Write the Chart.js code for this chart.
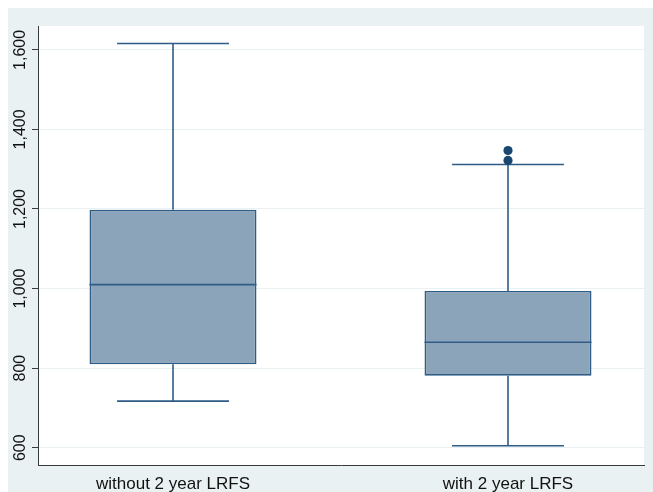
<!DOCTYPE html>
<html>
<head>
<meta charset="utf-8">
<script src="https://cdn.jsdelivr.net/npm/chart.js@4/dist/chart.umd.min.js"></script>
<style>
  html, body { margin: 0; padding: 0; background: #ffffff; }
  #wrap { width: 653px; height: 492px; }
</style>
</head>
<body>
<div id="wrap"><canvas id="c" width="653" height="492"></canvas></div>
<script>
// ---- data ----
const CATEGORIES    = ['without 2 year LRFS', 'with 2 year LRFS'];
const LOWER_WHISKER = [717, 605];
const Q1            = [810, 781];
const MEDIAN        = [1010, 865];
const Q3            = [1198, 994];
const UPPER_WHISKER = [1616, 1312];
const OUTLIERS      = [[], [1322, 1347]];
const Y_TICKS       = [600, 800, 1000, 1200, 1400, 1600];

// ---- style constants ----
const BOX_FILL   = '#8ca4b9';
const LINE_COL   = '#2f5c87';
const DOT_COL    = '#1a476f';
const PANEL      = '#eaf1f3';
const BOX_FRAC   = 0.4985;   // box width as fraction of category spacing
const CAP_HALF   = 0.167;    // half cap width in x units
const MED_HALF   = BOX_FRAC / 2;

const pos = CATEGORIES.map((_, i) => i + 1);

function segments(build) {
  const out = [];
  pos.forEach((x, i) => { build(x, i).forEach(p => out.push(p)); out.push({x: x, y: null}); });
  return out;
}

const whiskerData = segments((x, i) => [
  {x: x, y: Q3[i]}, {x: x, y: UPPER_WHISKER[i]}, {x: x, y: null},
  {x: x, y: Q1[i]}, {x: x, y: LOWER_WHISKER[i]}
]);
const capData = segments((x, i) => [
  {x: x - CAP_HALF, y: UPPER_WHISKER[i]}, {x: x + CAP_HALF, y: UPPER_WHISKER[i]}, {x: x, y: null},
  {x: x - CAP_HALF, y: LOWER_WHISKER[i]}, {x: x + CAP_HALF, y: LOWER_WHISKER[i]}
]);
const medianData = segments((x, i) => [
  {x: x - MED_HALF, y: MEDIAN[i]}, {x: x + MED_HALF, y: MEDIAN[i]}
]);
const boxData = pos.map((x, i) => ({x: x, y: [Q1[i], Q3[i]]}));
const outlierData = [];
pos.forEach((x, i) => OUTLIERS[i].forEach(v => outlierData.push({x: x, y: v})));

const lineDefaults = {
  type: 'line', borderColor: LINE_COL, borderWidth: 1.6, pointRadius: 0,
  pointHoverRadius: 0, fill: false, tension: 0, spanGaps: false, borderCapStyle: 'butt'
};

const bgPlugin = {
  id: 'bg',
  beforeDraw(chart) {
    const {ctx, width, height, chartArea: a} = chart;
    ctx.save();
    ctx.fillStyle = '#ffffff';
    ctx.fillRect(0, 0, width, height);
    ctx.fillStyle = PANEL;
    ctx.fillRect(8, 8, width - 8, height - 8);
    ctx.fillStyle = '#ffffff';
    ctx.fillRect(a.left, a.top, a.right - a.left, a.bottom - a.top);
    ctx.restore();
  }
};

const FONT = "'Liberation Sans', Arial, Helvetica, sans-serif";

new Chart(document.getElementById('c'), {
  type: 'bar',
  data: {
    datasets: [
      Object.assign({}, lineDefaults, {label: 'median', data: medianData, order: 0}),
      {type: 'scatter', label: 'outliers', data: outlierData, order: 1,
       pointRadius: 4.6, pointBackgroundColor: DOT_COL, pointBorderColor: DOT_COL, pointBorderWidth: 0},
      {type: 'bar', label: 'box', data: boxData, order: 2,
       backgroundColor: BOX_FILL, borderColor: LINE_COL, borderWidth: 1.6, borderSkipped: false,
       categoryPercentage: 1, barPercentage: BOX_FRAC},
      Object.assign({}, lineDefaults, {label: 'caps', data: capData, order: 3}),
      Object.assign({}, lineDefaults, {label: 'whiskers', data: whiskerData, order: 4})
    ]
  },
  options: {
    responsive: false,
    animation: false,
    events: [],
    layout: {padding: {left: 8, top: 26, right: 9, bottom: 0}},
    plugins: {legend: {display: false}, tooltip: {enabled: false}},
    scales: {
      x: {
        type: 'linear',
        offset: false,
        min: 0.597, max: 2.406,
        afterBuildTicks(s) { s.ticks = pos.map(v => ({value: v})); },
        afterFit(s) { s.height = 27; },
        grid: {display: false, offset: false},
        border: {display: true, color: '#3a3a3a', width: 1},
        ticks: {
          padding: 1, maxRotation: 0, minRotation: 0, autoSkip: false,
          color: '#111', font: {family: FONT, size: 17},
          callback: v => CATEGORIES[v - 1] || ''
        }
      },
      y: {
        type: 'linear',
        min: 556.5, max: 1660,
        afterBuildTicks(s) { s.ticks = Y_TICKS.map(v => ({value: v})); },
        afterFit(s) { s.width = 30; },
        grid: {display: true, color: PANEL, lineWidth: 1, tickLength: 6, tickColor: '#3a3a3a', tickWidth: 1},
        border: {display: true, color: '#3a3a3a', width: 1},
        ticks: {
          minRotation: 90, maxRotation: 90, crossAlign: 'center', padding: -9,
          color: '#111', font: {family: FONT, size: 16},
          callback: v => v.toLocaleString('en-US')
        }
      }
    }
  },
  plugins: [bgPlugin]
});
</script>
</body>
</html>
